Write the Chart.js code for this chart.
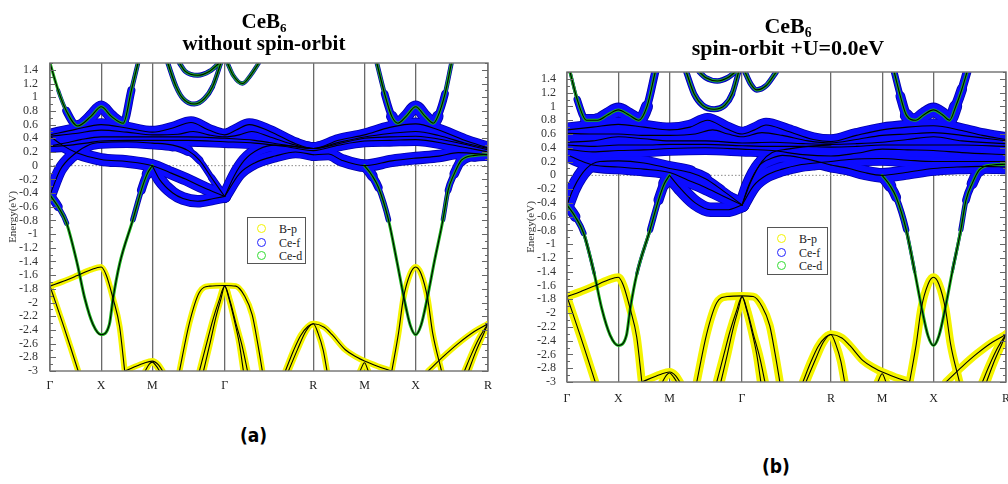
<!DOCTYPE html>
<html>
<head>
<meta charset="utf-8">
<script src="https://cdn.jsdelivr.net/npm/chart.js"></script>
<style>
html, body { margin: 0; padding: 0; background: #fff; width: 1008px; height: 484px; overflow: hidden; position: relative; }
canvas { position: absolute; top: 0; }
.title { position: absolute; font-family: "Liberation Serif", serif; font-weight: bold; text-align: center; color: #000; white-space: nowrap; }
.title sub { font-size: 0.62em; vertical-align: -0.3em; line-height: 0; }
.legend { position: absolute; border: 1px solid #555; background: #fff; font-family: "Liberation Serif", serif; font-size: 12px; color: #222; }
.legend div { position: absolute; left: 0; height: 14px; line-height: 14px; }
.legend span.c { position: absolute; width: 7px; height: 7px; border-radius: 50%; border: 1.6px solid; top: 2px; }
.legend span.t { position: absolute; top: 0; }
.cap { position: absolute; font-family: "DejaVu Sans Condensed", "Liberation Sans Narrow", "Liberation Sans", sans-serif; font-weight: bold; font-size: 19px; color: #000; }
</style>
</head>
<body>
<canvas id="chartA" width="500" height="400" style="left:0px"></canvas>
<canvas id="chartB" width="500" height="412" style="left:520px"></canvas>

<div class="title" style="left:164px;top:11px;width:200px;font-size:21px;line-height:21.5px">CeB<sub>6</sub><br>without spin-orbit</div>
<div class="title" style="left:688px;top:15px;width:200px;font-size:22px;line-height:22px">CeB<sub>6</sub><br>spin-orbit +U=0.0eV</div>

<div class="legend" id="legA" style="left:247px;top:217px;width:57px;height:45px"></div>
<div class="legend" id="legB" style="left:767px;top:227px;width:59px;height:46px"></div>

<div class="cap" style="left:240px;top:424px">(a)</div>
<div class="cap" style="left:762px;top:455px">(b)</div>

<script>
// k-path (cumulative distance in 2pi/a) and energy ticks
const kPos = [0, 0.5, 1.0, 1.707, 2.573, 3.073, 3.573, 4.28];
const kLabels = ['Γ', 'X', 'M', 'Γ', 'R', 'M', 'X', 'R'];
const yTicks = [1.4, 1.2, 1, 0.8, 0.6, 0.4, 0.2, 0, -0.2, -0.4, -0.6, -0.8, -1, -1.2, -1.4, -1.6, -1.8, -2, -2.2, -2.4, -2.6, -2.8, -3];
const legendNames = ['B-p', 'Ce-f', 'Ce-d'];

// ---- bands below the f manifold (same in both panels) ----
// points are [k, E] or [k, E, f-weight]
const pB1 = [[0,-1.76],[0.13,-1.69],[0.26,-1.61],[0.4,-1.52],[0.5,-1.48],[0.55,-1.6],[0.616,-1.94],[0.68,-2.35],[0.73,-3.0]];
const pB2 = [[0,-1.76],[0.03,-1.89],[0.13,-2.33],[0.2,-2.65],[0.275,-3.0]];
const pB3 = [[0.73,-3.0],[0.91,-2.89],[1.0,-2.855],[1.06,-2.91],[1.10,-3.0]];
const pB4 = [[0.93,-3.0],[0.97,-2.9],[1.0,-2.87],[1.04,-2.93],[1.07,-3.0]];
const pB5 = [[1.265,-3.0],[1.362,-2.3],[1.46,-1.85],[1.56,-1.76],[1.707,-1.75],[1.816,-1.76],[1.9,-1.9],[1.976,-2.18],[2.03,-2.6],[2.075,-3.0]];
const pB6 = [[1.46,-3.0],[1.53,-2.6],[1.59,-2.26],[1.65,-1.98],[1.707,-1.76],[1.76,-1.98],[1.816,-2.3],[1.88,-2.65],[1.93,-3.0]];
const pB7 = [[1.5,-3.0],[1.56,-2.62],[1.62,-2.22],[1.67,-1.95],[1.707,-1.76],[1.75,-1.95],[1.8,-2.25],[1.85,-2.6],[1.89,-3.0]];
const pB8 = [[2.30,-3.0],[2.38,-2.7],[2.45,-2.48],[2.52,-2.35],[2.573,-2.31],[2.68,-2.36],[2.757,-2.47],[2.886,-2.69],[3.0,-2.8],[3.073,-2.855],[3.2,-2.93],[3.34,-3.0]];
const pB9 = [[2.33,-3.0],[2.42,-2.68],[2.5,-2.42],[2.573,-2.31],[2.62,-2.45],[2.67,-2.7],[2.707,-3.0]];
const pB10 = [[3.03,-3.0],[3.073,-2.88],[3.11,-3.0]];
const pB11 = [[3.34,-3.0],[3.405,-2.45],[3.453,-1.94],[3.52,-1.58],[3.573,-1.48],[3.626,-1.58],[3.69,-1.94],[3.74,-2.45],[3.826,-3.0]];
const pB12 = [[3.696,-3.0],[3.85,-2.78],[3.988,-2.6],[4.15,-2.42],[4.28,-2.31]];
const pB13 = [[4.05,-3.0],[4.12,-2.75],[4.2,-2.5],[4.28,-2.31]];
const pB14 = [[4.09,-3.0],[4.16,-2.72],[4.23,-2.48],[4.28,-2.31]];
const dV1 = [[0,-0.43,0.9],[0.08,-0.6,0.45],[0.162,-0.84,0.22],[0.266,-1.43,0.04],[0.34,-1.94,0],[0.42,-2.32,0],[0.5,-2.47,0],[0.58,-2.32,0],[0.616,-1.94,0],[0.681,-1.43,0.04],[0.81,-0.79,0.22],[0.892,-0.36,0.5],[0.95,-0.12,0.8],[1.0,0.0,0.9]];
const dV2 = [[3.073,0.0,0.9],[3.15,-0.15,0.75],[3.21,-0.32,0.5],[3.307,-0.79,0.22],[3.39,-1.4,0.04],[3.46,-1.94,0],[3.52,-2.33,0],[3.573,-2.47,0],[3.626,-2.33,0],[3.686,-1.94,0],[3.756,-1.4,0.04],[3.84,-0.79,0.2],[3.89,-0.36,0.35],[3.95,-0.12,0.6],[4.02,0.08,0.85],[4.15,0.15,1],[4.28,0.16,1]];

// ---- panel (a): without spin-orbit ----
const fa1 = [[0,0.45],[0.25,0.53],[0.5,0.6],[0.75,0.55],[1.0,0.49],[1.2,0.55],[1.378,0.63],[1.55,0.52],[1.707,0.45],[1.82,0.52],[1.946,0.6],[2.15,0.5],[2.4,0.32],[2.573,0.25],[2.82,0.37],[3.073,0.45],[3.32,0.56],[3.573,0.61],[3.8,0.52],[4.05,0.37],[4.28,0.26]];
const fa2 = [[0,0.43],[0.25,0.47],[0.5,0.52],[0.75,0.49],[1.0,0.45],[1.25,0.46],[1.4,0.5],[1.55,0.45],[1.707,0.42],[1.85,0.45],[1.97,0.5],[2.15,0.42],[2.4,0.3],[2.573,0.25],[2.82,0.34],[3.073,0.42],[3.32,0.47],[3.573,0.5],[3.8,0.44],[4.05,0.33],[4.28,0.25]];
const fa3 = [[0,0.29],[0.15,0.33],[0.3,0.38],[0.5,0.42],[0.75,0.42],[1.0,0.42],[1.35,0.42],[1.707,0.4],[2.0,0.37],[2.3,0.3],[2.573,0.25],[2.82,0.32],[3.073,0.4],[3.32,0.42],[3.573,0.43],[3.9,0.36],[4.28,0.23]];
const fa4 = [[0,0.28],[0.2,0.3],[0.4,0.34],[0.5,0.36],[0.75,0.37],[1.0,0.37],[1.35,0.37],[1.707,0.35],[2.0,0.33],[2.3,0.28],[2.573,0.22],[2.82,0.3],[3.073,0.36],[3.32,0.37],[3.573,0.38],[3.9,0.31],[4.28,0.2]];
const faL1 = [[0,0.43],[0.12,0.3],[0.26,0.19],[0.5,0.09],[0.75,0.06],[1.0,0.0],[1.17,-0.1],[1.33,-0.2],[1.5,-0.32],[1.707,-0.45]];
const faL2 = [[0,-0.43],[0.1,-0.06],[0.23,0.16],[0.39,0.31],[0.5,0.34],[0.75,0.35],[1.0,0.33],[1.2,0.3],[1.35,0.22,0.7],[1.46,0.08,0.45],[1.58,-0.18,0.45],[1.707,-0.45,0.6]];
const faDip = [[1.0,0.0],[1.07,-0.2],[1.2,-0.4],[1.3,-0.48],[1.443,-0.52],[1.6,-0.48],[1.707,-0.45]];
const faGR1 = [[1.707,-0.45],[1.85,-0.12],[2.0,0.04],[2.2,0.14],[2.4,0.2],[2.573,0.16]];
const faGR2 = [[1.707,-0.45],[1.8,-0.15],[1.9,0.08],[2.04,0.24],[2.2,0.3],[2.4,0.28],[2.573,0.25]];
const faRM = [[2.573,0.16],[2.72,0.17],[2.85,0.08],[3.073,0.0],[3.34,0.07],[3.573,0.11],[3.8,0.14],[3.99,0.19],[4.28,0.16]];
const dA1 = [[0,1.5,0.05],[0.08,1.1,0.12],[0.16,0.8,0.3],[0.27,0.58,0.9],[0.4,0.72,1],[0.5,0.86,1],[0.6,0.72,1],[0.716,0.62,0.9],[0.795,1.1,0.3],[0.86,1.5,0.25]];
const dA2 = [[3.194,1.5,0.25],[3.27,1.05,0.3],[3.34,0.72,0.8],[3.40,0.62,1],[3.48,0.72,1],[3.573,0.86,1],[3.666,0.72,1],[3.746,0.62,1],[3.79,0.72,0.8],[3.86,1.05,0.3],[3.923,1.5,0.25]];
const dA3 = [[1.151,1.5,0.3],[1.232,1.155,0.3],[1.30,0.98,0.3],[1.41,0.9,0.3],[1.51,0.98,0.3],[1.589,1.155,0.3],[1.67,1.5,0.25]];
const dA4 = [[1.265,1.5,0.3],[1.32,1.38,0.3],[1.443,1.32,0.3],[1.56,1.38,0.3],[1.654,1.5,0.3]];
const dA5 = [[1.734,1.5,0.25],[1.79,1.32,0.25],[1.88,1.2,0.25],[1.96,1.32,0.25],[2.04,1.5,0.25]];

// ---- panel (b): spin-orbit +U=0.0eV ----
const fbU1 = [[0,0.66],[0.25,0.7],[0.5,0.74],[0.75,0.7],[1.0,0.66],[1.2,0.7],[1.37,0.8],[1.55,0.68],[1.707,0.6],[1.83,0.66],[1.94,0.73],[2.15,0.64],[2.4,0.52],[2.573,0.49],[2.82,0.58],[3.073,0.66],[3.32,0.7],[3.573,0.72],[3.85,0.65],[4.05,0.58],[4.28,0.52]];
const fbU2 = [[0,0.61],[0.25,0.6],[0.5,0.6],[0.75,0.58],[1.0,0.58],[1.25,0.6],[1.42,0.66],[1.57,0.6],[1.707,0.56],[1.9,0.62],[2.1,0.58],[2.35,0.5],[2.573,0.47],[2.82,0.52],[3.073,0.58],[3.32,0.6],[3.573,0.62],[3.85,0.58],[4.28,0.5]];
const fbU3 = [[0,0.48],[0.25,0.5],[0.5,0.56],[0.75,0.53],[1.0,0.5],[1.35,0.5],[1.707,0.47],[2.0,0.48],[2.3,0.46],[2.573,0.45],[2.82,0.46],[3.073,0.48],[3.32,0.52],[3.573,0.56],[3.85,0.5],[4.28,0.46]];
const fbU4 = [[0,0.44],[0.25,0.42],[0.5,0.44],[0.75,0.44],[1.0,0.45],[1.35,0.45],[1.707,0.43],[2.0,0.42],[2.3,0.42],[2.573,0.41],[2.82,0.42],[3.073,0.44],[3.32,0.44],[3.573,0.44],[3.85,0.44],[4.28,0.42]];
const fbU5 = [[0,0.38],[0.25,0.34],[0.5,0.36],[0.75,0.37],[1.0,0.39],[1.35,0.4],[1.707,0.38],[2.0,0.36],[2.3,0.3],[2.573,0.28],[2.82,0.32],[3.073,0.38],[3.32,0.37],[3.573,0.36],[3.85,0.33],[4.28,0.3]];
const fbL1 = [[0,0.3],[0.12,0.22],[0.254,0.15],[0.5,0.12],[0.75,0.09],[1.0,0.04],[1.18,-0.07],[1.34,-0.17],[1.52,-0.3],[1.707,-0.43]];
const fbL2 = [[0,-0.43],[0.063,-0.19],[0.19,0.1],[0.32,0.2],[0.5,0.21],[0.75,0.18],[1.0,0.1],[1.2,0.04],[1.35,-0.05,0.7],[1.5,-0.2,0.45],[1.707,-0.43,0.6]];
const fbDip = [[1.0,0.0],[1.1,-0.18],[1.25,-0.4],[1.4,-0.5],[1.56,-0.5],[1.707,-0.43]];
const fbGR1 = [[1.707,-0.43],[1.82,-0.15],[1.944,0.0],[2.1,0.09],[2.262,0.15],[2.42,0.18],[2.573,0.2]];
const fbGR2 = [[1.707,-0.43],[1.77,-0.15],[1.88,0.15],[2.0,0.25],[2.1,0.29],[2.3,0.25],[2.573,0.15]];
const fbGR3 = [[1.707,-0.43,0.6],[1.79,-0.1,0.6],[1.9,0.2,0.8],[2.0,0.33],[2.15,0.38],[2.35,0.42],[2.573,0.44]];
const fbRM1 = [[2.573,0.15],[2.75,0.1],[2.9,0.04],[3.073,0.0],[3.3,0.04],[3.573,0.1],[3.8,0.12],[4.05,0.13],[4.28,0.12]];
const fbRM2 = [[2.573,0.2],[2.75,0.23],[3.073,0.245],[3.32,0.22],[3.573,0.2],[3.85,0.2],[4.05,0.2],[4.28,0.2]];
const dB1 = [[0.03,1.5,0.05],[0.1,1.1,0.2],[0.19,0.8,0.7],[0.3,0.8,1],[0.4,0.88,1],[0.5,0.95,1],[0.6,0.88,1],[0.7,0.8,1],[0.78,1.0,0.6],[0.86,1.5,0.4]];
const dB2 = [[3.19,1.5,0.35],[3.25,1.15,0.45],[3.31,0.87,0.8],[3.4,0.8,1],[3.48,0.88,1],[3.573,0.95,1],[3.66,0.88,1],[3.73,0.8,1],[3.79,1.0,0.75],[3.85,1.25,0.6],[3.9,1.5,0.5]];
const dB3 = [[1.163,1.5,0.35],[1.24,1.18,0.35],[1.32,1.02,0.35],[1.434,0.96,0.35],[1.54,1.02,0.35],[1.61,1.18,0.35],[1.673,1.5,0.25]];
const dB4 = [[1.29,1.5,0.3],[1.35,1.42,0.3],[1.466,1.37,0.3],[1.57,1.42,0.3],[1.64,1.5,0.3]];
const dB5 = [[1.736,1.5,0.3],[1.79,1.33,0.3],[1.85,1.24,0.3],[1.94,1.3,0.3],[2.04,1.5,0.3]];

const lowerBands = [['p',pB1],['p',pB2],['p',pB3],['p',pB4],['p',pB5],['p',pB6],['p',pB7],['p',pB8],['p',pB9],['p',pB10],['p',pB11],['p',pB12],['p',pB13],['p',pB14],['d',dV1],['d',dV2]];
const bandsA = lowerBands.concat([['f',fa1],['f',fa2],['f',fa3],['f',fa4],['f',faL1],['f',faL2],['f',faDip],['f',faGR1],['f',faGR2],['f',faRM],
  ['d',dA1],['d',dA2],['d',dA3],['d',dA4],['d',dA5]]);
const bandsB = lowerBands.concat([['f',fbU1],['f',fbU2],['f',fbU3],['f',fbU4],['f',fbU5],['f',fbL1],['f',fbL2],['f',fbDip],['f',fbGR1],['f',fbGR2],['f',fbGR3],['f',fbRM1],['f',fbRM2],
  ['d',dB1],['d',dB2],['d',dB3],['d',dB4],['d',dB5]]);

const COL = { f: '#0c0cff', rim: '#0000a8', p: '#f4f400', d: '#1cb41c' };

Chart.defaults.font.family = '"Liberation Serif", serif';

const fmt = v => String(Math.round(v * 10) / 10);

// frame and inside tick marks, like the xmgrace plot
const framePlugin = {
    id: 'frame',
    afterDatasetsDraw(chart) {
        const {ctx, chartArea: a, scales: {y}} = chart;
        ctx.save();
        ctx.strokeStyle = '#7a7a7a';
        ctx.lineWidth = 1.5;
        ctx.strokeRect(a.left, a.top, a.right - a.left, a.bottom - a.top);
        ctx.lineWidth = 1;
        ctx.strokeStyle = '#666';
        yTicks.forEach(v => {
            [[v, 6], [v + 0.1, 3]].forEach(([t, len]) => {
                if (t > 1.5) return;
                const py = Math.round(y.getPixelForValue(t)) + 0.5;
                ctx.beginPath();
                ctx.moveTo(a.left, py); ctx.lineTo(a.left + len, py);
                ctx.moveTo(a.right, py); ctx.lineTo(a.right - len, py);
                ctx.stroke();
            });
        });
        ctx.restore();
    }
};

function makePanel(canvasId, bands, st) {
    const sets = [{
        data: [{x: 0, y: 0}, {x: 4.28, y: 0}], showLine: true, pointRadius: 0,
        borderColor: '#8a8a8a', borderWidth: 1, borderDash: [1.5, 2], order: 9, clip: 0
    }];
    bands.forEach(([kind, pts]) => {
        const pv = pts.map(p => ({x: p[0], y: p[1], w: p.length > 2 ? p[2] : 1}));
        const fatMax = kind === 'p' ? st.pW : st.fW;
        const wid = c => Math.max(0.01, fatMax * (pv[c.p0DataIndex].w + pv[c.p1DataIndex].w) / 2);
        const base = () => ({
            data: pv.map(o => ({x: o.x, y: o.y})), showLine: true, pointRadius: 0,
            cubicInterpolationMode: 'monotone', borderCapStyle: 'round', borderJoinStyle: 'round', clip: 0
        });
        if (kind !== 'p') {
            sets.push({...base(), borderColor: COL.rim, order: 8,
                segment: {borderWidth: c => wid(c) > 1.5 ? wid(c) + 1.6 : 0.01}});
        }
        sets.push({...base(), borderColor: kind === 'p' ? COL.p : COL.f, order: 7, segment: {borderWidth: wid}});
        if (kind === 'd') sets.push({...base(), borderColor: COL.d, borderWidth: 3, order: 6});
        sets.push({...base(), borderColor: '#000', borderWidth: 1.1, order: 5});
    });

    new Chart(document.getElementById(canvasId), {
        type: 'scatter',
        data: {datasets: sets},
        options: {
            responsive: false, animation: false, events: [],
            layout: {padding: {top: st.top, right: st.right, left: 0, bottom: 0}},
            plugins: {legend: {display: false}, tooltip: {enabled: false}},
            scales: {
                x: {
                    type: 'linear', min: 0, max: 4.28,
                    afterBuildTicks: s => { s.ticks = kPos.map(v => ({value: v})); },
                    afterFit: s => { s.height = st.xH; },
                    ticks: {callback: (v, i) => kLabels[i], autoSkip: false, maxRotation: 0,
                        padding: st.xPad, color: '#222', font: {size: 12}},
                    grid: {color: '#6a6a6a', lineWidth: 1.3, drawTicks: false},
                    border: {display: false}
                },
                y: {
                    min: -3, max: 1.5,
                    afterBuildTicks: s => { s.ticks = yTicks.map(v => ({value: v})); },
                    afterFit: s => { s.width = st.yW; },
                    ticks: {callback: v => fmt(v), autoSkip: false, padding: st.yPad, color: '#333', font: {size: 12}},
                    grid: {display: false},
                    border: {display: false},
                    title: {display: true, text: 'Energy(eV)', color: '#333', font: {size: 11},
                        padding: {top: st.titlePad, bottom: 0}}
                }
            }
        },
        plugins: [framePlugin]
    });
}

function makeLegend(id, ys, cx, tx) {
    const box = document.getElementById(id);
    const cols = [COL.p, '#2222ff', '#33dd33'];
    legendNames.forEach((name, i) => {
        const row = document.createElement('div');
        row.style.top = ys[i] + 'px';
        row.style.width = '100%';
        row.innerHTML = `<span class="c" style="left:${cx}px;border-color:${cols[i]}"></span><span class="t" style="left:${tx}px">${name}</span>`;
        box.appendChild(row);
    });
}

makePanel('chartA', bandsA, {top: 63, right: 10, xH: 29, yW: 50, xPad: 8, yPad: 4, titlePad: 7, fW: 11, pW: 6});
makePanel('chartB', bandsB, {top: 72, right: 8, xH: 30, yW: 47, xPad: 10, yPad: 3, titlePad: 5, fW: 13, pW: 8});
makeLegend('legA', [3.5, 17.5, 31], 9, 31);
makeLegend('legB', [3.5, 17.5, 31], 9, 31);
</script>
</body>
</html>
